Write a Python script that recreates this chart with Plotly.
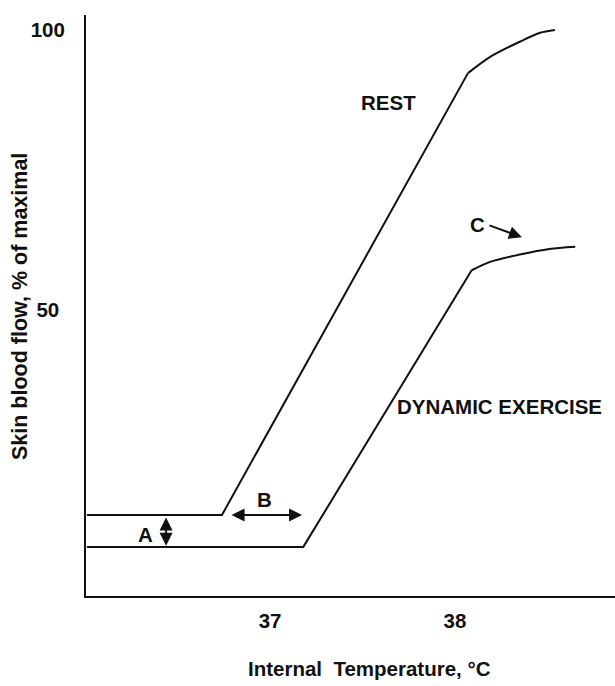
import plotly.graph_objects as go

# Rest: baseline, linear rise, curved plateau (internal temperature degC, % of maximal)
rest_temp = [36.01, 36.74, 38.07]
rest_flow = [13.4, 13.4, 92.3]
rest_curve_temp = [38.07, 38.19, 38.35, 38.46, 38.54]
rest_curve_flow = [92.3, 95.2, 97.9, 99.5, 100.0]

# Dynamic exercise
ex_temp = [36.01, 37.18, 38.09]
ex_flow = [7.7, 7.7, 57.1]
ex_curve_temp = [38.09, 38.19, 38.35, 38.51, 38.65]
ex_curve_flow = [57.1, 58.6, 59.9, 60.9, 61.3]

x_ticks = [37, 38]
x_ticklabels = ["37", "38"]
y_ticks = [50, 100]
y_ticklabels = ["50\u00a0", "100"]

FONT = "Liberation Sans, Arial, sans-serif"
INK = "#111111"
FS = 20.5

fig = go.Figure()
line = dict(color=INK, width=2)
fig.add_trace(go.Scatter(x=rest_temp, y=rest_flow, mode="lines", line=line, name="REST"))
fig.add_trace(go.Scatter(x=rest_curve_temp, y=rest_curve_flow, mode="lines",
                         line=dict(color=INK, width=2, shape="spline", smoothing=0.8), name="REST"))
fig.add_trace(go.Scatter(x=ex_temp, y=ex_flow, mode="lines", line=line, name="DYNAMIC EXERCISE"))
fig.add_trace(go.Scatter(x=ex_curve_temp, y=ex_curve_flow, mode="lines",
                         line=dict(color=INK, width=2, shape="spline", smoothing=0.8), name="DYNAMIC EXERCISE"))

txt = dict(family=FONT, size=FS, color=INK, weight="bold")
labels = [
    ("REST", 37.638, 87.1),
    ("DYNAMIC EXERCISE", 38.238, 32.7),
    ("B", 36.968, 16.2),
    ("A", 36.324, 9.9),
    ("C", 38.119, 65.2),
]
for t, x, y in labels:
    fig.add_annotation(x=x, y=y, text=t, showarrow=False, font=txt,
                       xanchor="center", yanchor="middle")

# axis titles, placed where the reference has them
fig.add_annotation(x=0.535, y=-0.124, xref="paper", yref="paper",
                   text="Internal  Temperature, °C", showarrow=False, font=txt,
                   xanchor="center", yanchor="middle")
fig.add_annotation(x=-0.1248, y=0.499, xref="paper", yref="paper", textangle=-90,
                   text="Skin blood flow, % of maximal", showarrow=False,
                   font=dict(family=FONT, size=21.5, color=INK, weight="bold"),
                   xanchor="center", yanchor="middle")

arrow = dict(showarrow=True, arrowhead=2, arrowsize=1.3, arrowwidth=2, arrowcolor=INK,
             axref="x", ayref="y", text="", standoff=0, startstandoff=0)
# B: horizontal double arrow
fig.add_annotation(x=37.173, y=13.4, ax=36.784, ay=13.4, arrowside="end+start", **arrow)
# A: vertical double arrow
fig.add_annotation(x=36.438, y=7.9, ax=36.438, ay=13.2, arrowside="end+start", **arrow)
# C: single arrow
fig.add_annotation(x=38.362, y=63.0, ax=38.178, ay=65.2, arrowside="end", **arrow)

fig.update_layout(
    width=615, height=686,
    margin=dict(l=86, r=0, t=15, b=90),
    paper_bgcolor="white", plot_bgcolor="white",
    showlegend=False,
    font=dict(family=FONT, size=FS, color=INK),
)
fig.update_xaxes(
    range=[36.005, 38.865], tickvals=x_ticks, ticktext=x_ticklabels,
    showgrid=False, zeroline=False, showline=True, linecolor=INK, linewidth=2,
    ticks="", ticklabelstandoff=5,
    tickfont=txt,
)
fig.update_yaxes(
    range=[-1.07, 102.68], tickvals=y_ticks, ticktext=y_ticklabels,
    showgrid=False, zeroline=False, showline=True, linecolor=INK, linewidth=2,
    ticks="", ticklabelstandoff=15,
    tickfont=txt,
)

fig.write_html("out.html")
